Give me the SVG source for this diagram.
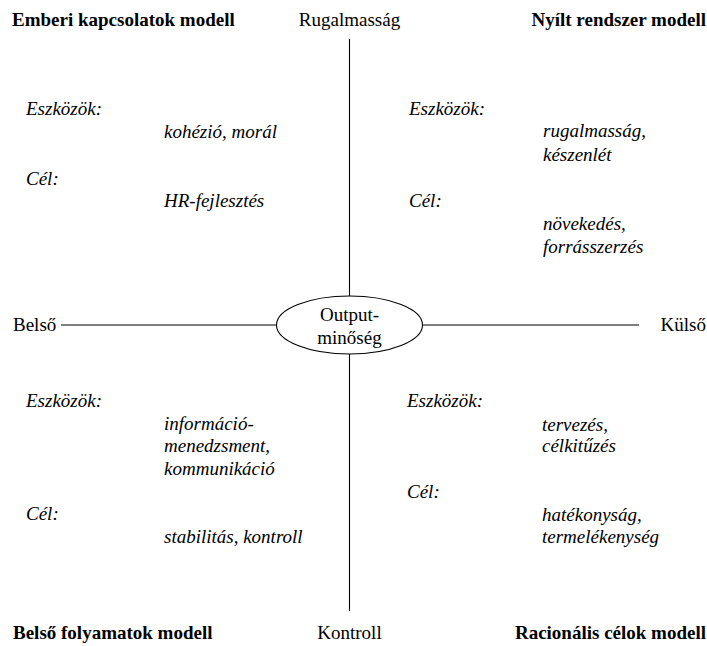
<svg xmlns="http://www.w3.org/2000/svg" width="707" height="646" viewBox="0 0 707 646">
<style>
text{font-family:"Liberation Serif","Times New Roman",serif;font-size:19px;fill:#000}
.b{font-weight:bold}
.i{font-style:italic}
.m{text-anchor:middle}
.e{text-anchor:end}
.ln{stroke:#000;stroke-width:1.1;fill:none}
</style>
<rect width="707" height="646" fill="#fff"/>
<g id="connectors">
<line class="ln" x1="349.5" y1="39" x2="349.5" y2="296"/>
<line class="ln" x1="349.5" y1="354" x2="349.5" y2="611"/>
<line class="ln" x1="61" y1="325" x2="277" y2="325"/>
<line class="ln" x1="422" y1="325" x2="639" y2="325"/>
</g>
<g id="center">
<ellipse class="ln" cx="349.5" cy="325" rx="73" ry="29" stroke-width="1.7"/>
<text class="m" x="349.5" y="321">Output-</text>
<text class="m" x="349.5" y="344">minőség</text>
</g>
<g id="axis-labels">
<text class="m" x="349.5" y="26">Rugalmasság</text>
<text class="m" x="349.5" y="639">Kontroll</text>
<text x="13" y="331">Belső</text>
<text class="e" x="706" y="331">Külső</text>
</g>
<g id="q-human">
<text class="b" x="12" y="26">Emberi kapcsolatok modell</text>
<text class="i" x="26" y="115">Eszközök:</text>
<text class="i" x="164" y="138">kohézió, morál</text>
<text class="i" x="26" y="185">Cél:</text>
<text class="i" x="164" y="207">HR-fejlesztés</text>
</g>
<g id="q-open">
<text class="b e" x="706" y="26">Nyílt rendszer modell</text>
<text class="i" x="409" y="115">Eszközök:</text>
<text class="i" x="543" y="137">rugalmasság,</text>
<text class="i" x="543" y="161">készenlét</text>
<text class="i" x="409" y="207">Cél:</text>
<text class="i" x="543" y="230">növekedés,</text>
<text class="i" x="543" y="253">forrásszerzés</text>
</g>
<g id="q-internal">
<text class="b" x="13" y="639">Belső folyamatok modell</text>
<text class="i" x="26" y="407">Eszközök:</text>
<text class="i" x="164" y="430">információ-</text>
<text class="i" x="164" y="452">menedzsment,</text>
<text class="i" x="164" y="475">kommunikáció</text>
<text class="i" x="26" y="520">Cél:</text>
<text class="i" x="164" y="543">stabilitás, kontroll</text>
</g>
<g id="q-rational">
<text class="b e" x="706" y="639">Racionális célok modell</text>
<text class="i" x="407" y="407">Eszközök:</text>
<text class="i" x="542" y="431">tervezés,</text>
<text class="i" x="542" y="452">célkitűzés</text>
<text class="i" x="407" y="498">Cél:</text>
<text class="i" x="542" y="521">hatékonyság,</text>
<text class="i" x="542" y="543">termelékenység</text>
</g>
</svg>
